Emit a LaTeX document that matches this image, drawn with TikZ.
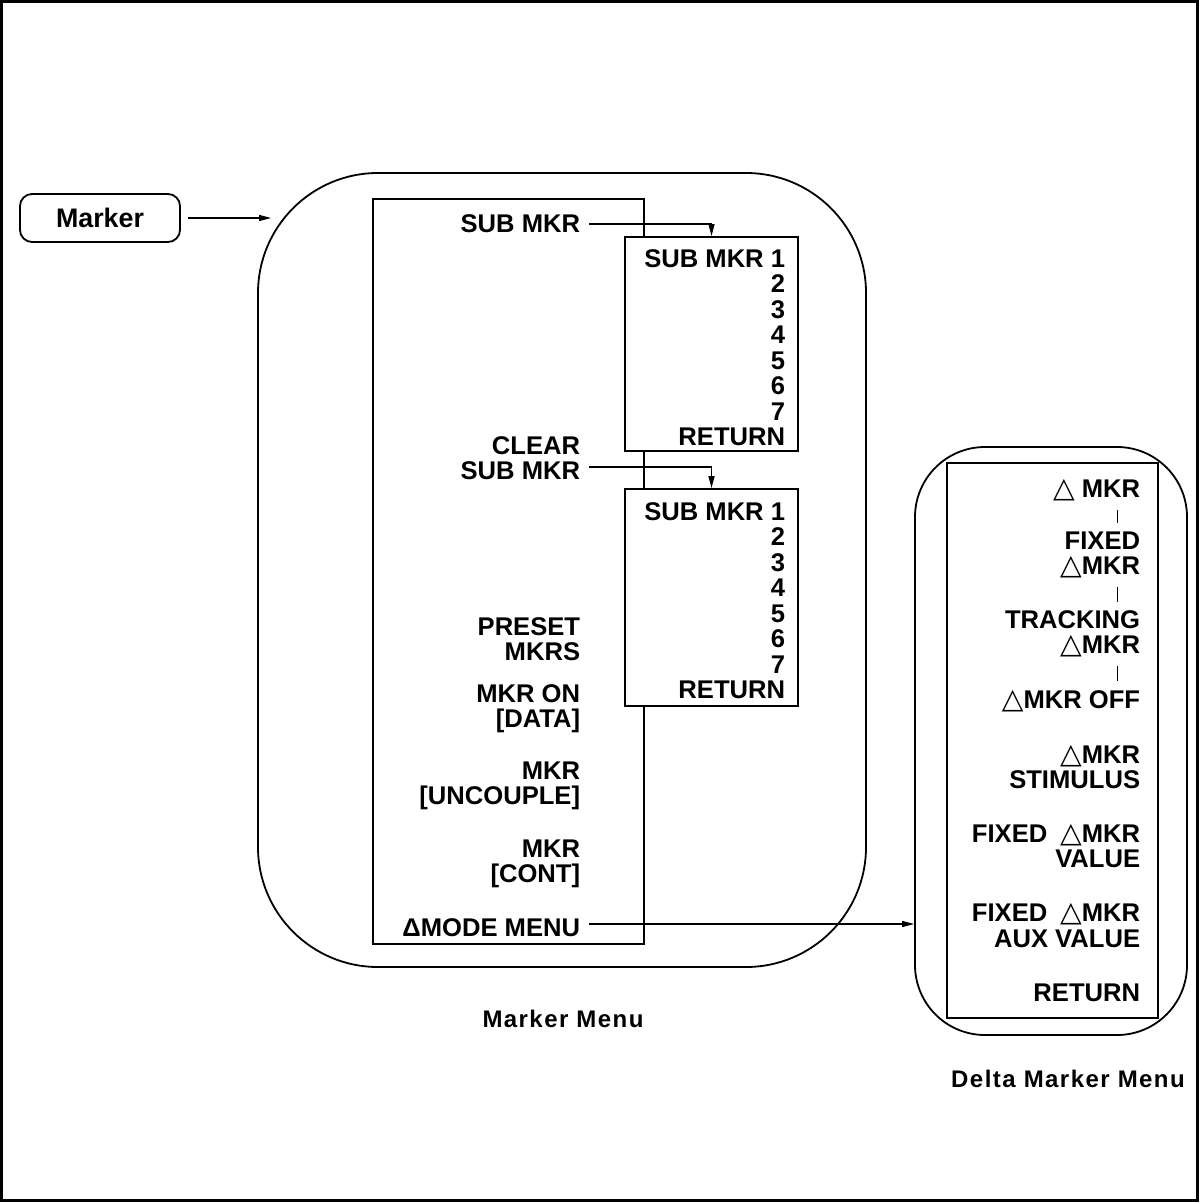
\documentclass[tikz,border=0pt]{standalone}
\usepackage{fontspec}
\setmainfont{Liberation Sans}
\newfontfamily\trifont[Scale=1.1]{DejaVu Sans}
\newfontfamily\menucapfont[LetterSpace=6]{Liberation Sans}
\usetikzlibrary{arrows.meta, positioning}
\newcommand{\dtri}{{\trifont\mdseries △}}

\begin{document}
\begin{tikzpicture}[x=0.5pt, y=-0.5pt, line width=0.9pt,
  menubox/.style={draw, inner sep=0pt},
  softkey/.style={anchor=east, align=right, inner sep=4pt,
    font=\fontsize{12.8}{12.75}\selectfont\bfseries},
  caption/.style={font=\menucapfont\fontsize{12}{14}\selectfont\bfseries},
  arr/.style={-{Triangle[length=6pt,width=3pt]}, line width=0.7pt}]
  \useasboundingbox (0,0) rectangle (1200,1203);
  % Frame
  \draw[line width=1.2pt] (1.5,1.5) rectangle (1197.5,1200.5);

  % Marker hardkey
  \node[draw, rounded corners=6pt, minimum width=80pt, minimum height=24pt,
    font=\fontsize{13.4}{16}\selectfont\bfseries] (marker) at (100,218) {Marker};

  % Marker menu
  \node[draw, rounded corners=60pt, minimum width=304pt, minimum height=397pt] (mkrmenu) at (562,570) {};
  \node[menubox, minimum width=135.5pt, minimum height=372.5pt] (mainkeys) at (508.5,571.5) {};
  \node[menubox, fill=white, minimum width=86.5pt, minimum height=107pt] (sub1) at (711.5,344) {};
  \node[menubox, fill=white, minimum width=86.5pt, minimum height=108.5pt] (sub2) at (711.5,597.5) {};

  \node[softkey] (submkr) at (589,224) {SUB MKR};
  \node[softkey] (clear) at (589,458) {CLEAR\\SUB MKR};
  \node[softkey] (preset) at (589,639) {PRESET\\MKRS};
  \node[softkey] (mkron) at (589,708.5) {MKR ON\\{[DATA]}};
  \node[softkey] (uncouple) at (589,786) {MKR\\{[UNCOUPLE]}};
  \node[softkey] (cont) at (589,864) {MKR\\{[CONT]}};
  \node[softkey] (modemenu) at (589,928) {ΔMODE MENU};

  % Sub marker menus
  \node[softkey] (sub1keys) at (794,347.5) {SUB MKR 1\\2\\3\\4\\5\\6\\7\\RETURN};
  \node[softkey] (sub2keys) at (794,600.5) {SUB MKR 1\\2\\3\\4\\5\\6\\7\\RETURN};

  % Delta marker menu
  \node[draw, rounded corners=35pt, minimum width=136pt, minimum height=294pt] (deltamenu) at (1051,741) {};
  \node[menubox, minimum width=105.5pt, minimum height=277.5pt] (deltakeys) at (1052.5,740.5) {};

  \node[softkey] (dmkr) at (1149,490) {\dtri\ MKR};
  \node[softkey] (fixed) at (1149,555) {FIXED\\\dtri MKR};
  \node[softkey] (tracking) at (1149,634) {TRACKING\\\dtri MKR};
  \node[softkey] (dmkroff) at (1149,701) {\dtri MKR OFF};
  \node[softkey] (stimulus) at (1149,767) {\dtri MKR\\STIMULUS};
  \node[softkey] (fixedval) at (1149,846) {FIXED\enspace\dtri MKR\\VALUE};
  \node[softkey] (fixedaux) at (1149,925.5) {FIXED\enspace\dtri MKR\\AUX VALUE};
  \node[softkey] (dreturn) at (1149,993) {RETURN};

  \foreach \a/\b in {dmkr/fixed, fixed/tracking, tracking/dmkroff}
    \draw[line width=0.5pt] ([xshift=-16pt]\a.south east) -- ([xshift=-16pt]\b.north east);

  % Connectors
  \draw[arr, shorten <=3.5pt, shorten >=-7pt] (marker.east) -- (marker.east -| mkrmenu.west);
  \draw[arr] (submkr.east) -| (sub1.north);
  \draw[arr] ([yshift=-4.5pt]clear.east) -| (sub2.north);
  \draw[arr] ([yshift=2pt]modemenu.east) -- ([yshift=2pt]modemenu.east -| deltamenu.west);

  % Captions
  \node[caption] (mkrcap) at (563,1019) {Marker Menu};
  \node[caption] (deltacap) at (1068,1079) {Delta Marker Menu};
\end{tikzpicture}
\end{document}
